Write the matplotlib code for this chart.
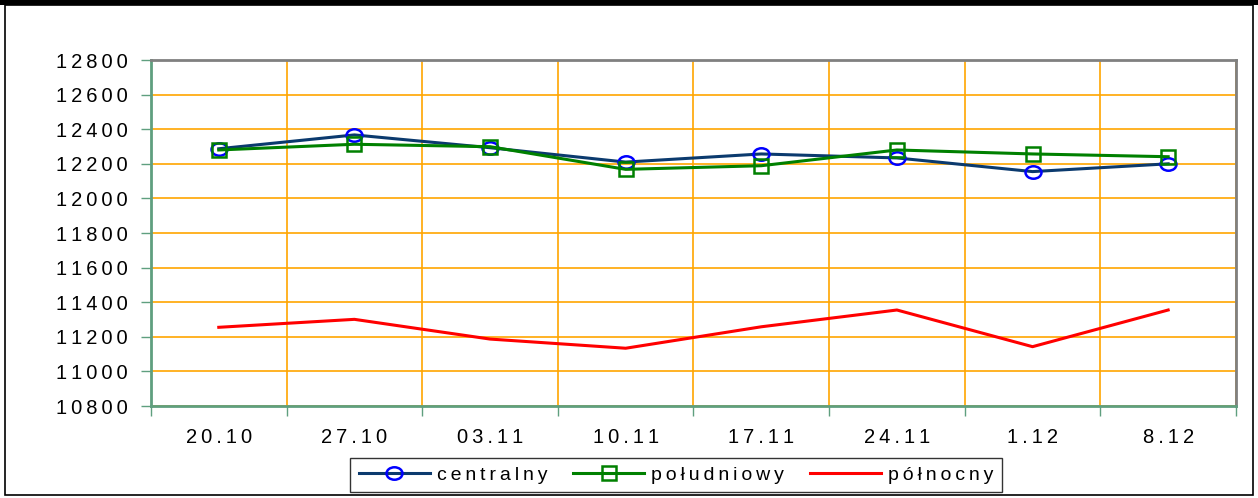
import matplotlib.pyplot as plt
from matplotlib.patches import Rectangle
from matplotlib.path import Path
from matplotlib.transforms import Affine2D
from matplotlib.ticker import FixedLocator, FuncFormatter, MultipleLocator

plt.rcParams['font.family'] = ['Liberation Sans', 'DejaVu Sans']

dates = ['20.10', '27.10', '03.11', '10.11', '17.11', '24.11', '1.12', '8.12']
centralny = [12287, 12367, 12293, 12210, 12257, 12234, 12155, 12200]
poludniowy = [12280, 12313, 12299, 12168, 12189, 12280, 12257, 12241]
polnocny = [11255, 11301, 11187, 11134, 11258, 11355, 11143, 11355]


def spaced(s):
    # wide letter spacing like the original
    return '\u2009'.join(s)


# slightly flattened circle, as in the original
ellipse = Path.unit_circle().transformed(Affine2D().scale(1, 0.78))

fig = plt.figure(figsize=(12.58, 4.98), dpi=100)

# outer frame and black top bar
fig.patches.append(Rectangle((0.004, 0.006), 0.992, 0.984, transform=fig.transFigure,
                             fill=False, edgecolor='black', linewidth=1.2))
fig.patches.append(Rectangle((0, 0.99), 1, 0.01, transform=fig.transFigure,
                             facecolor='black', edgecolor='none'))

ax = fig.add_axes([0.12, 0.1847, 0.8625, 0.6948])

x = list(range(len(dates)))
ax.plot(x, centralny, color='#0B3A6E', linewidth=2.2, marker=ellipse, markersize=11.5,
        markerfacecolor='none', markeredgecolor='#0000FF', markeredgewidth=1.8,
        label=spaced('centralny'), zorder=4)
ax.plot(x, poludniowy, color='#008000', linewidth=2.2, marker='s', markersize=10,
        markerfacecolor='none', markeredgecolor='#008000', markeredgewidth=1.8,
        label=spaced('południowy'), zorder=4)
ax.plot(x, polnocny, color='#FF0000', linewidth=2.2, label=spaced('północny'), zorder=4)

ax.set_xlim(-0.5, len(dates) - 0.5)
ax.set_ylim(10800, 12800)
ax.yaxis.set_major_locator(MultipleLocator(200))
ax.yaxis.set_major_formatter(FuncFormatter(lambda v, p: spaced('%d' % v)))

ax.set_xticks(x)
ax.set_xticklabels([spaced(d) for d in dates])
ax.xaxis.set_minor_locator(FixedLocator([i - 0.5 for i in range(len(dates) + 1)]))
ax.tick_params(axis='x', which='major', length=0, labelsize=14.5, pad=16)
ax.tick_params(axis='x', which='minor', length=7, width=1, color='#5F9F7F')
ax.tick_params(axis='y', length=7, width=1, color='#5F9F7F', labelsize=14.5, pad=10)

ax.grid(True, axis='y', color='#FFA500', linewidth=1.2, zorder=0)
ax.grid(True, axis='x', which='minor', color='#FFA500', linewidth=1.2, zorder=0)
ax.set_axisbelow(True)

for side in ['left', 'bottom']:
    ax.spines[side].set_color('#5F9F7F')
    ax.spines[side].set_linewidth(2)
for side in ['top', 'right']:
    ax.spines[side].set_color('#808080')
    ax.spines[side].set_linewidth(2)

leg = ax.legend(loc='upper center', bbox_to_anchor=(0.484, -0.150), ncol=3,
                fontsize=14, frameon=True, fancybox=False, handlelength=3.65,
                columnspacing=1.35, handletextpad=0.36, borderpad=0.42,
                borderaxespad=0)
leg.get_frame().set_edgecolor('black')
leg.get_frame().set_linewidth(1)

fig.savefig('out.png', dpi=100)
